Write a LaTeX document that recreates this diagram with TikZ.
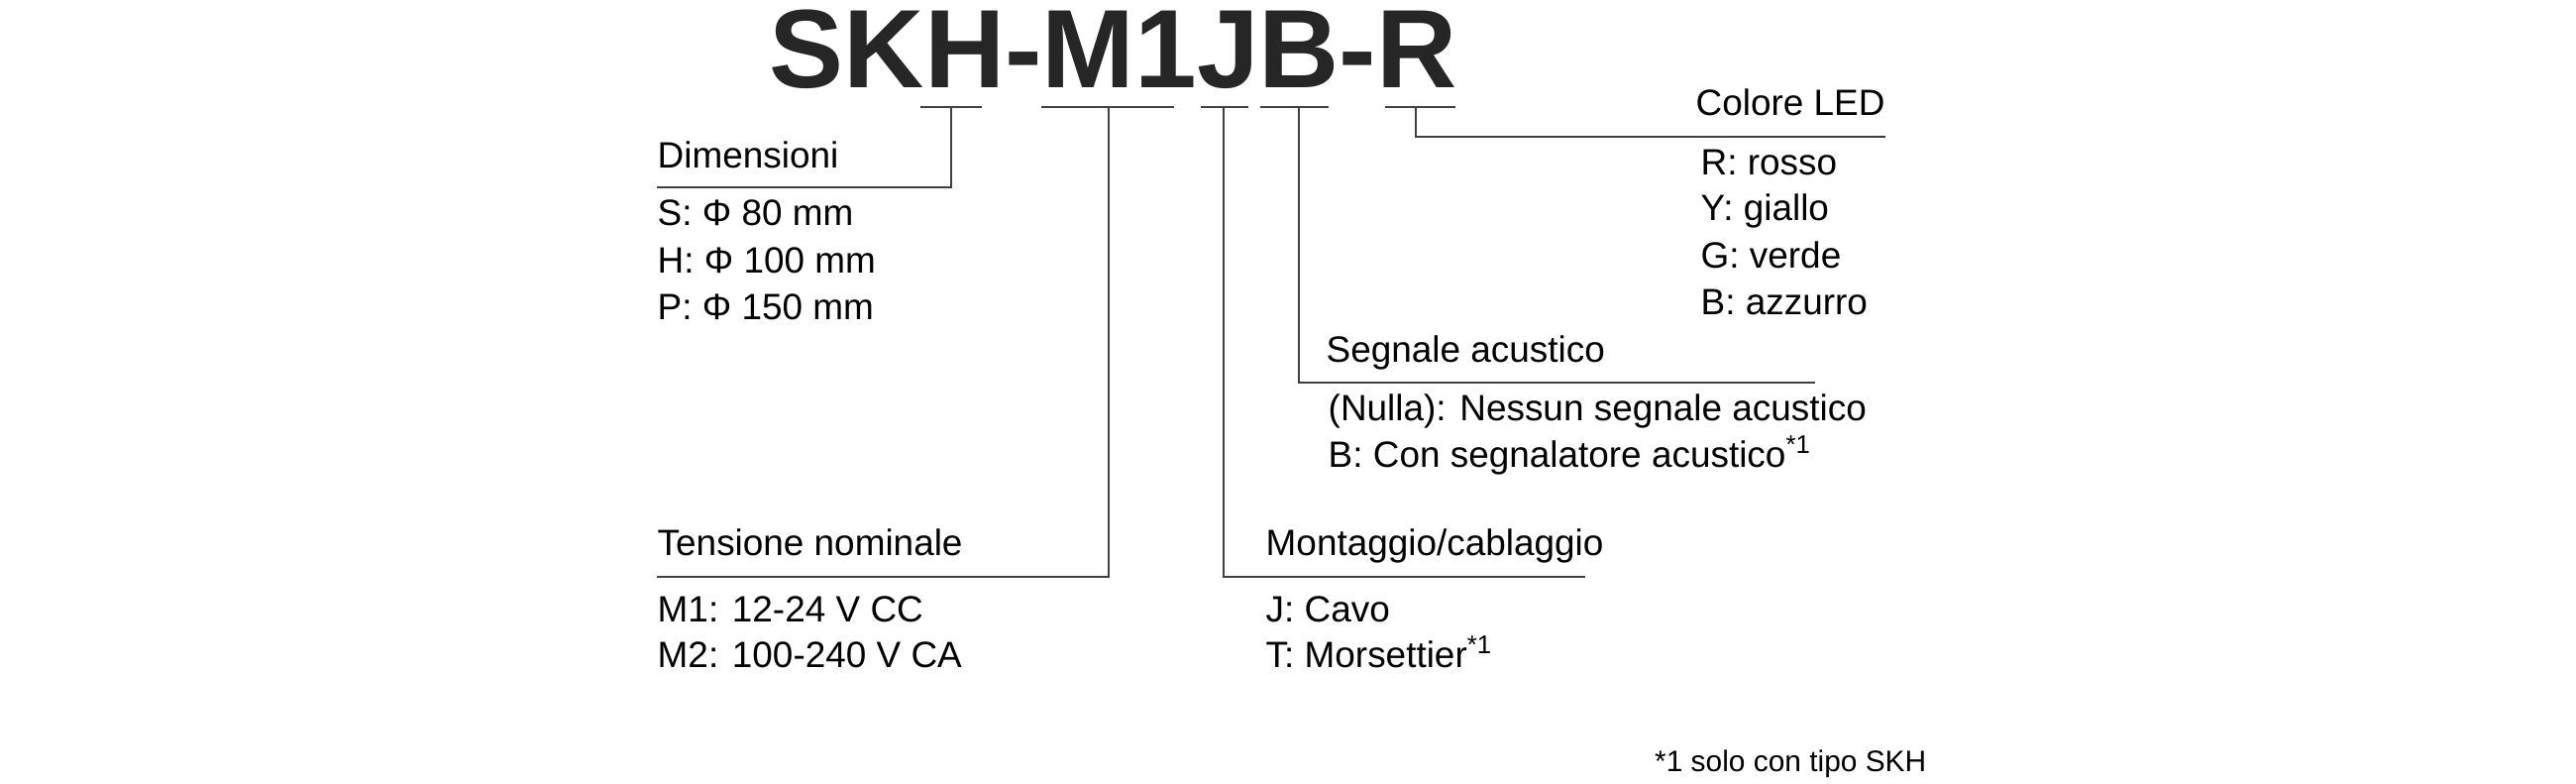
\documentclass[tikz,border=0pt]{standalone}
\usepackage{fontspec}
\setmainfont{Liberation Sans}
\begin{document}
\begin{tikzpicture}[x=0.01cm,y=0.01cm,
    lbl/.style={anchor=base west,inner sep=0pt,font=\fontsize{10.5}{12}\selectfont},
    lead/.style={draw=black!75,line width=0.6pt}]
    \useasboundingbox (0,0) rectangle (2600,790);

    % Codice del prodotto.
    \node[anchor=base west,inner sep=0pt,font=\fontsize{32}{36}\selectfont\bfseries,text=black!85] (code) at (776,702) {SKH-M1JB-R};

    % Tratti sotto il codice.
    \coordinate (s1) at (929,682); \coordinate (s2) at (991,682);
    \coordinate (m1) at (1051,682); \coordinate (m2) at (1185,682);
    \coordinate (j1) at (1212,682); \coordinate (j2) at (1260,682);
    \coordinate (b1) at (1272,682); \coordinate (b2) at (1341,682);
    \coordinate (r1) at (1398,682); \coordinate (r2) at (1469,682);
    \foreach \a/\b in {s1/s2,m1/m2,j1/j2,b1/b2,r1/r2}
        \draw[lead] (\a) -- (\b);

    % Dimensioni.
    \coordinate (dimL) at (663,601);
    \draw[lead] (960,682) |- (dimL);
    \node[lbl] (dim) at (663,621) {Dimensioni};
    \node[lbl] (dimS) at (663,563) {S: Φ 80 mm};
    \node[lbl] (dimH) at (663,515) {H: Φ 100 mm};
    \node[lbl] (dimP) at (663,468) {P: Φ 150 mm};

    % Tensione nominale.
    \coordinate (tenL) at (663,208);
    \draw[lead] (1119,682) |- (tenL);
    \node[lbl] (ten) at (663,230) {Tensione nominale};
    \node[lbl] (tenA) at (663,163) {M1: 12-24 V CC};
    \node[lbl] (tenB) at (663,117) {M2: 100-240 V CA};

    % Montaggio/cablaggio.
    \coordinate (monR) at (1600,208);
    \draw[lead] (1235,682) |- (monR);
    \node[lbl] (mon) at (1277,230) {Montaggio/cablaggio};
    \node[lbl] (monJ) at (1277,163) {J: Cavo};
    \node[lbl] (monT) at (1277,117) {T: Morsettier\textsuperscript{*1}};

    % Segnale acustico.
    \coordinate (segR) at (1832,404);
    \draw[lead] (1311,682) |- (segR);
    \node[lbl] (seg) at (1338,425) {Segnale acustico};
    \node[lbl] (segN) at (1340,366) {(Nulla): Nessun segnale acustico};
    \node[lbl] (segB) at (1340,319) {B: Con segnalatore acustico\textsuperscript{*1}};

    % Colore LED.
    \coordinate (ledR) at (1903,652);
    \draw[lead] (1429,682) |- (ledR);
    \node[lbl] (led) at (1711,674) {Colore LED};
    \node[lbl] (ledR1) at (1716,614) {R: rosso};
    \node[lbl] (ledY) at (1716,568) {Y: giallo};
    \node[lbl] (ledG) at (1716,520) {G: verde};
    \node[lbl] (ledB) at (1716,473) {B: azzurro};

    % Nota.
    \node[anchor=base east,inner sep=0pt,font=\fontsize{8.5}{10}\selectfont] (note) at (1945,12) {*1 solo con tipo SKH};
\end{tikzpicture}
\end{document}
